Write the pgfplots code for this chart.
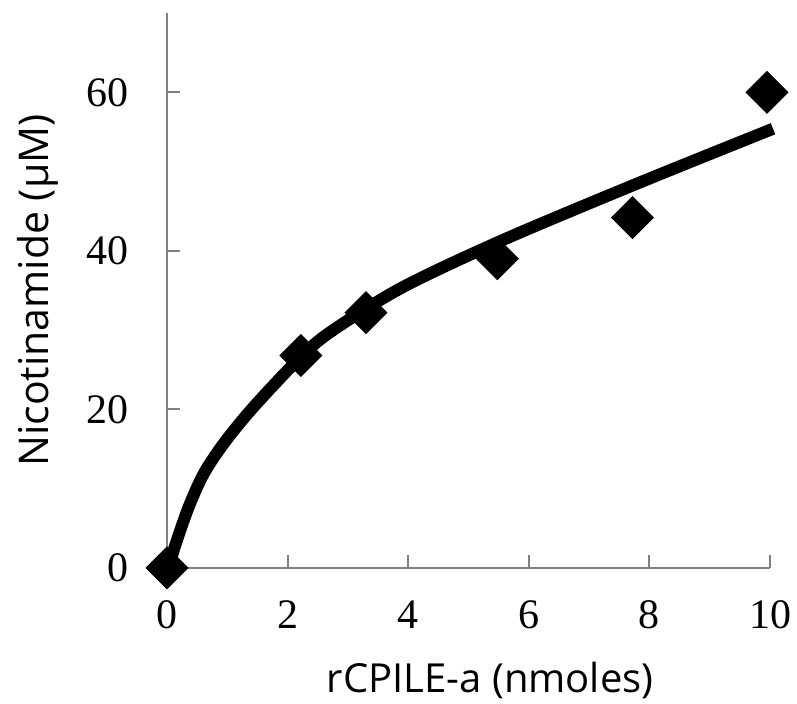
\documentclass[border=0pt]{standalone}
\usepackage{pgfplots}
\pgfplotsset{compat=1.18}
\usepackage{fontspec}
\setmainfont{Liberation Serif}
\newfontfamily\labelfont{Open Sans}
\definecolor{axgray}{HTML}{808080}
\begin{document}
\begin{tikzpicture}
\useasboundingbox (-83.5pt,-68pt) rectangle (315pt,284pt);
\begin{axis}[
  scale only axis, width=301.5pt, height=277.5pt,
  xmin=0, xmax=10, ymin=0, ymax=70,
  axis x line*=bottom, axis y line*=left,
  axis line style={draw=axgray, line width=1pt},
  xtick={0,2,4,6,8,10}, ytick={0,20,40,60},
  tick align=inside, major tick length=6.5pt,
  tick style={draw=axgray, line width=1pt},
  /pgf/number format/assume math mode=true,
  tick label style={font=\fontsize{21}{21}\selectfont, inner sep=0pt},
  xticklabel style={anchor=north, yshift=-16pt},
  yticklabel style={anchor=east, xshift=-19pt},
  xlabel={rCPILE-a (nmoles)}, ylabel={Nicotinamide (μM)},
  label style={font=\labelfont\fontsize{20}{24}\selectfont},
  xlabel style={at={(axis description cs:0.536,-0.202)}, anchor=center},
  ylabel style={at={(axis description cs:-0.214,0.5)}, anchor=center, font=\labelfont\fontsize{20.5}{24}\selectfont},
  clip=false,
]
\addplot[black, line width=6pt, smooth, tension=0.5] coordinates {
  (0.03,0) (0.13,2.7) (0.36,7.7) (0.61,11.9) (0.94,15.7) (1.4,20.0)
  (2.1,25.7) (2.66,29.5) (3.88,35.3) (5.55,41.3) (7.77,48.4) (10.05,55.4)
};
\addplot[only marks, mark=square*, mark size=7.4pt, mark options={rotate=45, fill=black, draw=black}] coordinates {
  (0,0) (2.22,26.8) (3.3,32.2) (5.48,39.0) (7.72,44.2) (9.95,60.0)
};
\end{axis}
\end{tikzpicture}
\end{document}
